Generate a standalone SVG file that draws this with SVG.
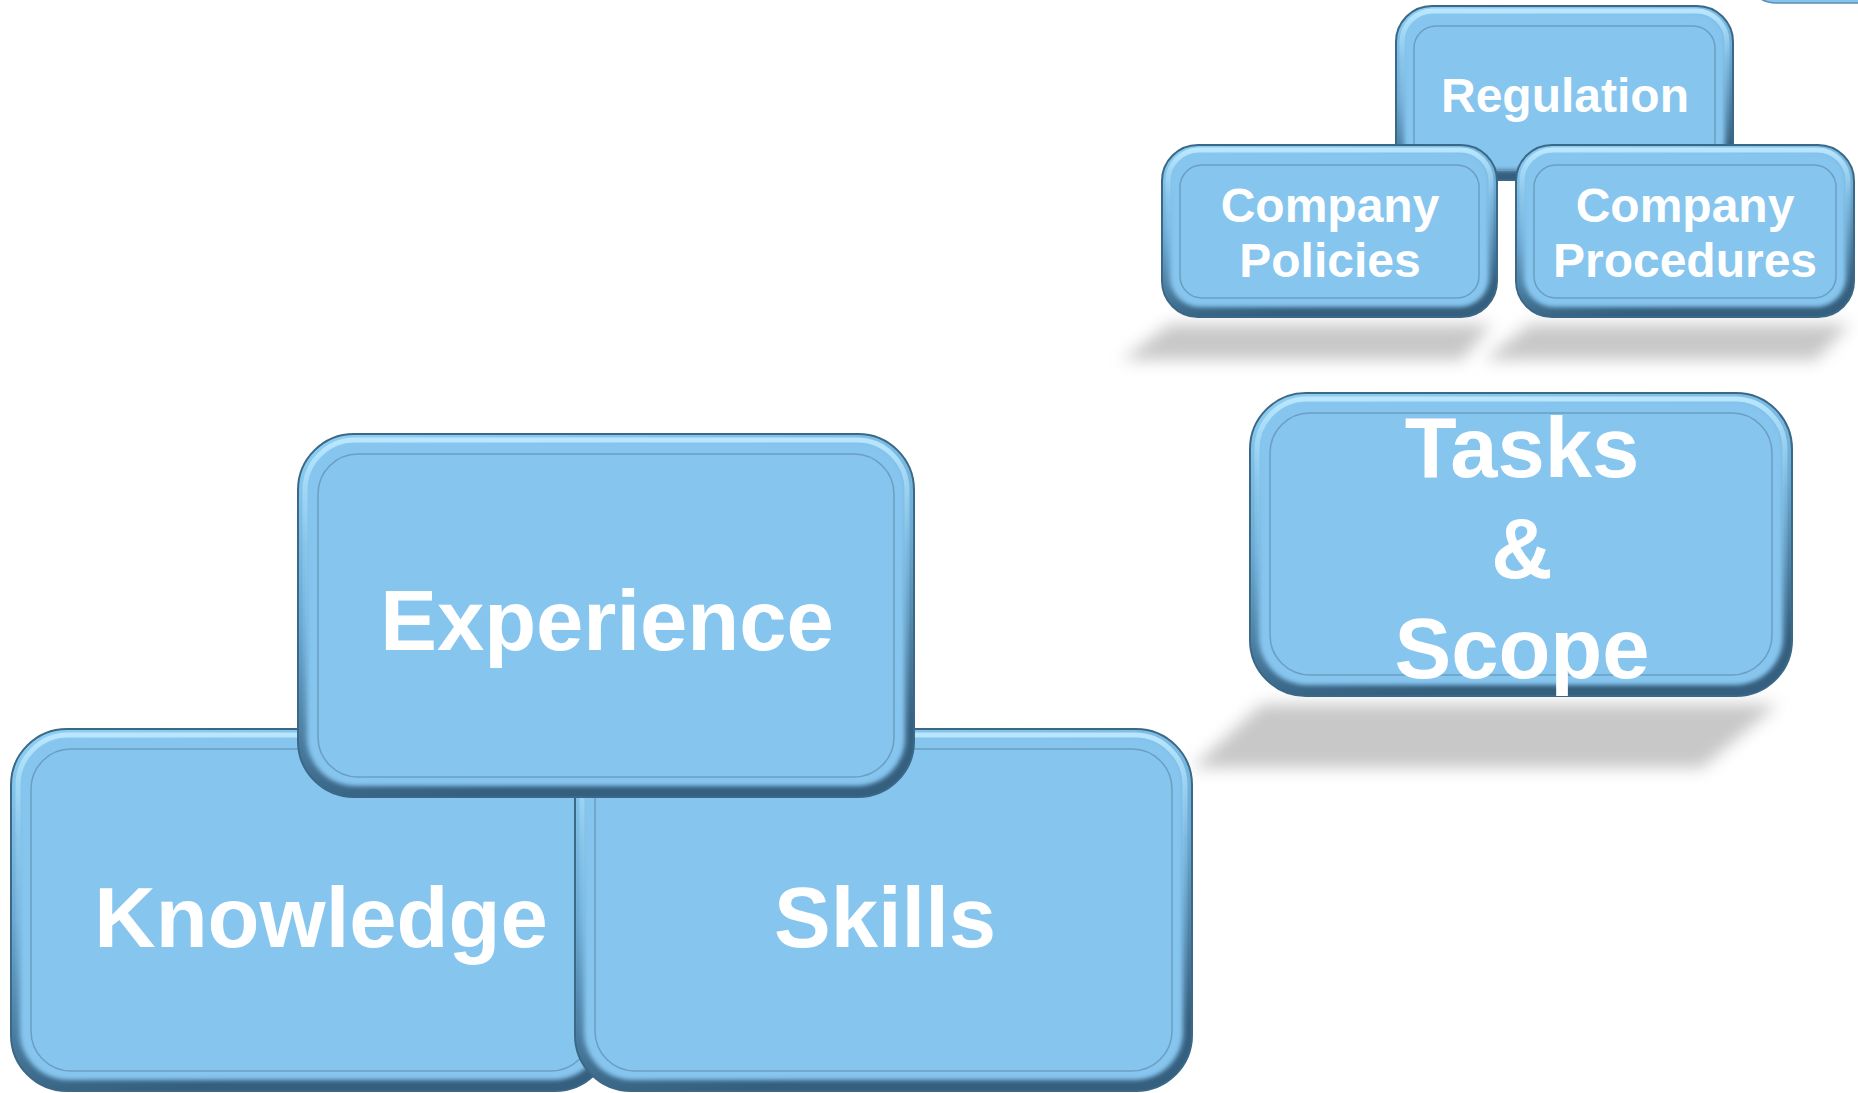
<svg xmlns="http://www.w3.org/2000/svg" width="1858" height="1093" viewBox="0 0 1858 1093">
<defs>
<linearGradient id="rim" x1="0" y1="0" x2="0.25" y2="1">
<stop offset="0" stop-color="#8fd0f5"/>
<stop offset="0.5" stop-color="#6aa9d3"/>
<stop offset="1" stop-color="#355f7e"/>
</linearGradient>
<linearGradient id="hl" x1="0" y1="0" x2="0" y2="1">
<stop offset="0" stop-color="#bfeaff" stop-opacity="0.9"/>
<stop offset="0.3" stop-color="#a6dcf7" stop-opacity="0.3"/>
<stop offset="1" stop-color="#86c5ee" stop-opacity="0"/>
</linearGradient>
<filter id="blur" x="-20%" y="-50%" width="140%" height="200%">
<feGaussianBlur stdDeviation="8"/>
</filter>
<filter id="soft" x="-5%" y="-5%" width="110%" height="110%">
<feGaussianBlur stdDeviation="2"/>
</filter>
</defs>
<style>
.rim{fill:url(#rim);stroke:#3b6886;stroke-width:2}
.face{fill:#86c5ee;filter:url(#soft)}
.hl{fill:none;stroke:url(#hl);stroke-width:5}
.inner{fill:none;stroke:#6b9ec2;stroke-width:1.5}
.big{font-family:"Liberation Sans",Arial,sans-serif;font-weight:bold;font-size:85px;fill:#ffffff;text-anchor:middle}
.small{font-family:"Liberation Sans",Arial,sans-serif;font-weight:bold;font-size:48px;fill:#ffffff;text-anchor:middle}
.shadow{fill:#c8c8c8;filter:url(#blur)}
</style>
<rect width="1858" height="1093" fill="#ffffff"/>

<g id="shadows">
<polygon class="shadow" points="1170,324 1492,324 1462,360 1122,360"/>
<polygon class="shadow" points="1530,324 1850,324 1816,360 1484,360"/>
<polygon class="shadow" points="1262,704 1778,704 1702,768 1192,768"/>
</g>

<g id="corner-shape">
<rect x="1746" y="-60" width="160" height="63" rx="30" fill="#86c5ee" stroke="#5a8fb5" stroke-width="1.5"/>
</g>

<g id="node-regulation">
<rect class="rim" x="1396" y="6" width="337" height="174" rx="36"/>
<rect class="face" x="1404" y="13" width="321" height="157" rx="30"/>
<rect class="hl" x="1402" y="11" width="325" height="160" rx="31"/>
<rect class="inner" x="1414" y="26" width="301" height="144" rx="22"/>
<text class="small" x="1565" y="112">Regulation</text>
</g>

<g id="node-policies">
<rect class="rim" x="1162" y="145" width="335" height="172" rx="36"/>
<rect class="face" x="1170" y="152" width="319" height="155" rx="30"/>
<rect class="hl" x="1168" y="150" width="323" height="158" rx="31"/>
<rect class="inner" x="1180" y="165" width="299" height="133" rx="22"/>
<text class="small" x="1330" y="222">Company</text>
<text class="small" x="1330" y="277">Policies</text>
</g>

<g id="node-procedures">
<rect class="rim" x="1516" y="145" width="338" height="172" rx="36"/>
<rect class="face" x="1524" y="152" width="322" height="155" rx="30"/>
<rect class="hl" x="1522" y="150" width="326" height="158" rx="31"/>
<rect class="inner" x="1534" y="165" width="302" height="133" rx="22"/>
<text class="small" x="1685" y="222">Company</text>
<text class="small" x="1685" y="277">Procedures</text>
</g>

<g id="node-tasks">
<rect class="rim" x="1250" y="393" width="542" height="303" rx="56"/>
<rect class="face" x="1259" y="401" width="524" height="284" rx="48"/>
<rect class="hl" x="1257" y="399" width="528" height="288" rx="50"/>
<rect class="inner" x="1270" y="413" width="502" height="262" rx="40"/>
<text class="big" x="1522" y="477">Tasks</text>
<text class="big" x="1522" y="578">&amp;</text>
<text class="big" x="1522" y="678">Scope</text>
</g>

<g id="node-knowledge">
<rect class="rim" x="11" y="729" width="600" height="362" rx="56"/>
<rect class="face" x="20" y="737" width="582" height="343" rx="48"/>
<rect class="hl" x="18" y="735" width="586" height="347" rx="50"/>
<rect class="inner" x="31" y="749" width="560" height="322" rx="40"/>
<text class="big" x="321" y="947">Knowledge</text>
</g>

<g id="node-skills">
<rect class="rim" x="575" y="729" width="617" height="362" rx="56"/>
<rect class="face" x="584" y="737" width="599" height="343" rx="48"/>
<rect class="hl" x="582" y="735" width="603" height="347" rx="50"/>
<rect class="inner" x="595" y="749" width="577" height="322" rx="40"/>
<text class="big" x="885" y="947">Skills</text>
</g>

<g id="node-experience">
<rect class="rim" x="298" y="434" width="616" height="363" rx="56"/>
<rect class="face" x="307" y="442" width="598" height="344" rx="48"/>
<rect class="hl" x="305" y="440" width="602" height="348" rx="50"/>
<rect class="inner" x="318" y="454" width="576" height="323" rx="40"/>
<text class="big" x="607" y="650">Experience</text>
</g>

<g id="connectors"></g>
</svg>
